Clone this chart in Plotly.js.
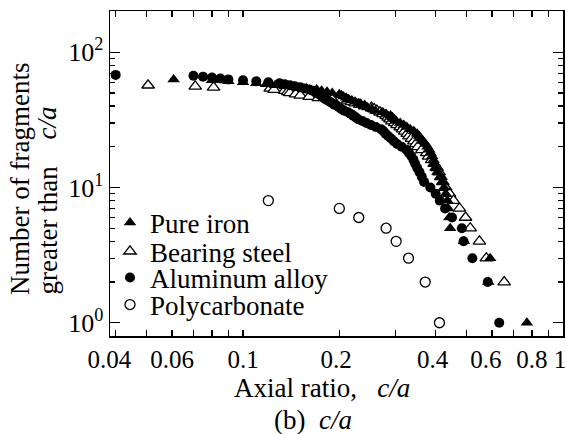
<!DOCTYPE html>
<html><head><meta charset="utf-8">
<script src="https://cdn.plot.ly/plotly-3.0.1.min.js"></script>
<style>html,body{margin:0;padding:0;background:#fff}#chart{width:566px;height:434px}</style>
</head><body><div id="chart"></div>
<script>
// Pure iron: c/a of each fragment, and number of fragments greater than c/a
const pureIronX = [0.0607,0.080,0.090,0.100,0.110,0.118,0.126,0.135,0.145,0.158,0.170,0.176,0.183,0.190,
  0.200,0.203,0.206,0.210,0.214,0.219,0.224,0.229,0.234,0.240,0.245,0.252,0.259,0.272,0.280,0.289,0.293,
  0.297,0.301,0.310,0.318,0.325,0.333,0.342,0.350,0.355,0.360,0.366,0.372,0.377,0.382,0.386,0.390,0.394,
  0.397,0.399,0.405,0.416,0.420,0.425,0.430,0.435,0.438,0.441,0.444,0.490,0.592,0.584,0.771];
const pureIronN = [63,62,61,60,59,58,57,56,55,54,53,52,51,50,49,48,47,46,45,44,43,42,41,40,39,38,37,36,35,34,
  33,32,31,30,29,28,27,26,25,24,23,22,21,20,19,18,17,16,15,14,13,12,11,10,9,8,7,6,5,4,3,2,1];

const bearingSteelX = [0.0505,0.0709,0.0809,0.1216,0.125,0.135,0.138,0.140,0.146,0.151,0.161,0.172,0.190,
  0.212,0.218,0.224,0.232,0.240,0.252,0.257,0.262,0.268,0.274,0.280,0.284,0.288,0.292,0.298,0.303,0.310,
  0.315,0.320,0.326,0.330,0.336,0.342,0.347,0.352,0.362,0.375,0.380,0.389,0.396,0.404,0.410,0.415,0.421,
  0.430,0.442,0.455,0.475,0.496,0.513,0.548,0.576,0.655];
const bearingSteelN = [57,56,55,54,53,52,51,50,49,48,47,46,45,44,43,42,41,40,39,38,37,36,35,34,33,32,31,30,
  29,28,27,26,25,24,23,22,21,20,19,18,17,16,15,14,13,12,11,10,9,8,7,6,5,4,3,2];

const aluminumX = [0.040,0.070,0.075,0.080,0.085,0.090,0.100,0.110,0.120,0.130,0.135,0.140,0.145,0.151,
  0.156,0.161,0.165,0.168,0.171,0.173,0.175,0.177,0.179,0.181,0.184,0.187,0.190,0.193,0.197,0.200,0.203,
  0.207,0.213,0.217,0.221,0.225,0.229,0.236,0.243,0.251,0.260,0.270,0.275,0.279,0.284,0.290,0.296,0.303,
  0.313,0.324,0.330,0.336,0.341,0.345,0.350,0.356,0.362,0.368,0.385,0.400,0.412,0.428,0.450,0.483,0.489,
  0.521,0.582,0.632];
const aluminumN = [68,67,66,65,64,63,62,61,60,59,58,57,56,55,54,53,52,51,50,49,48,47,46,45,44,43,42,41,40,
  39,38,37,36,35,34,33,32,31,30,29,28,27,26,25,24,23,22,21,20,19,18,17,16,15,14,13,12,11,10,9,8,7,6,5,4,3,2,1];

const polycarbonateX = [0.120,0.200,0.230,0.280,0.301,0.329,0.371,0.411];
const polycarbonateN = [8,7,6,5,4,3,2,1];

const xTickVals = [0.04,0.06,0.1,0.2,0.4,0.6,0.8,1];
const xTickText = ['0.04\u00a0\u00a0','0.06','0.1','0.2\u00a0','0.4\u00a0','0.6\u00a0\u00a0','0.8','1\u00a0'];
const xMinorVals = [0.05,0.07,0.08,0.09,0.3,0.5,0.7,0.9];
const yTickVals = [1,10,100];
const yTickText = ['10<sup>0</sup>','10<sup>1</sup>','10<sup>2</sup>'];
const yMinorVals = [2,3,4,5,6,7,8,9,20,30,40,50,60,70,80,90,200];

const FONT = '"Liberation Serif", "Times New Roman", serif';

const traces = [
  {x: bearingSteelX, y: bearingSteelN, type:'scatter', mode:'markers', name:'Bearing steel', legend:'legend2',
   marker:{symbol:'triangle-up', size:11, color:'#fff', line:{color:'#000', width:1.3}}},
  {x: pureIronX, y: pureIronN, type:'scatter', mode:'markers', name:'Pure iron', legend:'legend',
   marker:{symbol:'triangle-up', size:11, color:'#000'}},
  {x: aluminumX, y: aluminumN, type:'scatter', mode:'markers', name:'Aluminum alloy', legend:'legend3',
   marker:{symbol:'circle', size:10, color:'#000'}},
  {x: polycarbonateX, y: polycarbonateN, type:'scatter', mode:'markers', name:'Polycarbonate', legend:'legend4',
   marker:{symbol:'circle', size:10, color:'#fff', line:{color:'#000', width:1.3}}}
];

function legendAt(y){
  return {x:0.0, xanchor:'left', y:y, yanchor:'middle', bgcolor:'rgba(0,0,0,0)', borderwidth:0,
    font:{family:FONT, size:27, color:'#000'}};
}
const axisCommon = {type:'log', showline:true, linewidth:1.5, linecolor:'#000', mirror:'ticks',
  ticks:'inside', tickcolor:'#000', tickwidth:1.2, showgrid:false, zeroline:false, tickmode:'array'};

const titleFont = {family:FONT, size:27, color:'#000'};
const layout = {
  width:566, height:434, margin:{l:110, r:3, t:11, b:98},
  paper_bgcolor:'#fff', plot_bgcolor:'#fff', showlegend:true,
  font:{family:FONT, color:'#000'},
  xaxis: Object.assign({}, axisCommon, {range:[-1.4157, 0], tickvals:xTickVals, ticktext:xTickText, ticklen:6,
    tickangle:0, ticklabeloverflow:'allow', tickfont:{family:FONT, size:25, color:'#000'},
    minor:{tickmode:'array', tickvals:xMinorVals, ticks:'inside', ticklen:6, tickwidth:1.2, tickcolor:'#000', showgrid:false}}),
  yaxis: Object.assign({}, axisCommon, {range:[-0.098, 2.305], tickvals:yTickVals, ticktext:yTickText, ticklen:10,
    tickfont:{family:FONT, size:26, color:'#000'},
    minor:{tickmode:'array', tickvals:yMinorVals, ticks:'inside', ticklen:5, tickwidth:1.2, tickcolor:'#000', showgrid:false}}),
  legend: legendAt(0.3477),
  legend2: legendAt(0.2594),
  legend3: legendAt(0.1785),
  legend4: legendAt(0.0954),
  annotations: [
    {text:'Axial ratio,\u00a0\u00a0 <i>c/a</i>', xref:'paper', yref:'paper', x:0.468, y:-0.16,
     xanchor:'center', yanchor:'middle', showarrow:false, font:titleFont},
    {text:'(b)\u00a0\u00a0<i>c/a</i>', xref:'paper', yref:'paper', x:0.449, y:-0.2585,
     xanchor:'center', yanchor:'middle', showarrow:false, font:titleFont},
    {text:'Number of fragments', xref:'paper', yref:'paper', x:-0.1987, y:0.12, textangle:-90,
     xanchor:'center', yanchor:'bottom', showarrow:false, font:titleFont},
    {text:'greater than', xref:'paper', yref:'paper', x:-0.139, y:0.12, textangle:-90,
     xanchor:'center', yanchor:'bottom', showarrow:false, font:titleFont},
    {text:'<i>c/a</i>', xref:'paper', yref:'paper', x:-0.139, y:0.7108, textangle:-90,
     xanchor:'center', yanchor:'top', showarrow:false, font:titleFont}
  ]
};

Plotly.newPlot('chart', traces, layout, {displayModeBar:false, staticPlot:true});
</script>
</body></html>
